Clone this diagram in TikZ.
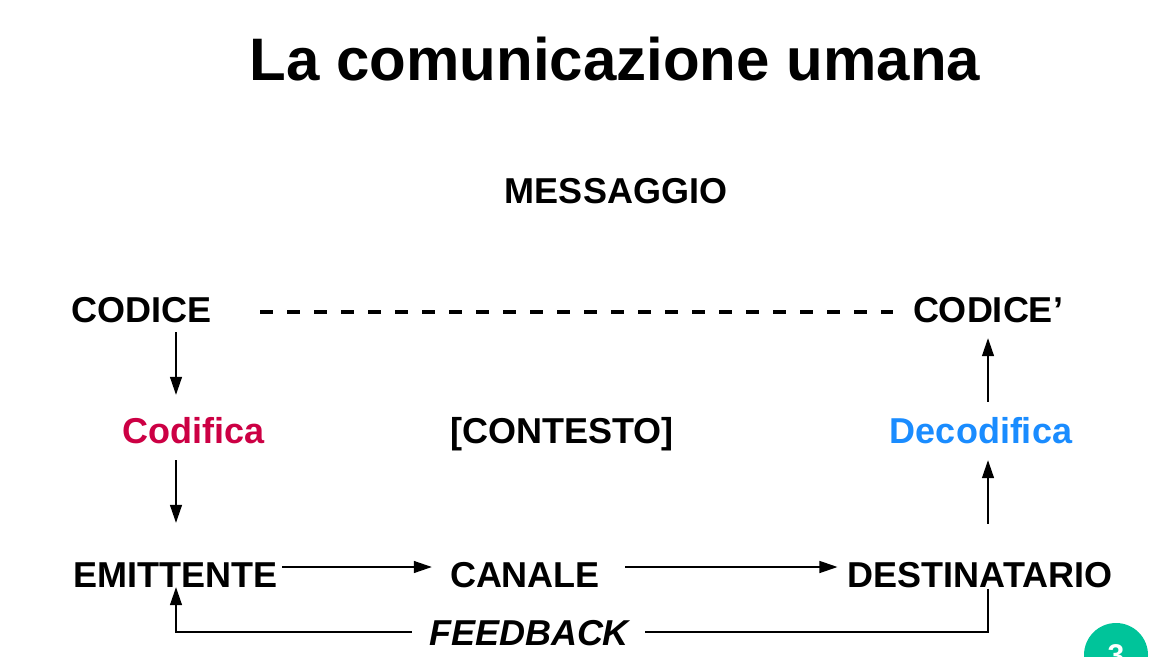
\documentclass[tikz,border=0pt]{standalone}
\usepackage{fontspec}
\setmainfont{Liberation Sans}
\usetikzlibrary{arrows.meta,calc}
\definecolor{codred}{HTML}{CC0044}
\definecolor{decblue}{HTML}{1A8CFF}
\definecolor{pagegreen}{HTML}{00C49A}
\tikzset{
  lbl/.style={inner sep=0pt, anchor=base, text height=26pt, text depth=0pt,
    font=\fontsize{36}{40}\selectfont\bfseries},
  arr/.style={line width=1.3pt, -{Triangle[length=18pt,width=12pt]}},
  plain/.style={line width=1.3pt},
  dashline/.style={line width=4pt, dash pattern=on 13pt off 14pt}
}
\begin{document}
\begin{tikzpicture}[x=1pt,y=-1pt]
\useasboundingbox (0,0) rectangle (1164,656);
\node[inner sep=0pt, anchor=base, font=\fontsize{60}{66}\selectfont\bfseries] (title) at (615,80) {La comunicazione umana};
\node[lbl] (messaggio) at (616,203) {MESSAGGIO};
\node[lbl] (codice) at (142,322) {CODICE};
\node[lbl] (codice2) at (988,322) {CODICE’};
\node[lbl, text=codred] (codifica) at (194,443) {Codifica};
\node[lbl] (contesto) at (562,443) {[CONTESTO]};
\node[lbl, text=decblue] (decodifica) at (981,443) {Decodifica};
\node[lbl] (emittente) at (175,587) {EMITTENTE};
\node[lbl] (canale) at (525,587) {CANALE};
\node[lbl] (destinatario) at (980,587) {DESTINATARIO};
\node[lbl, font=\fontsize{36}{40}\selectfont\bfseries\itshape] (feedback) at (529,645) {FEEDBACK};
\coordinate (lx) at (176,0);
\coordinate (rx) at (988,0);
% dashed link
\draw[dashline, shorten <=48pt, shorten >=20pt] ([yshift=-3pt]codice.east) -- ([yshift=-3pt]codice2.west);
% left column
\draw[arr, shorten <=10pt, shorten >=22pt] (codice.south -| lx) -- (codifica.north -| lx);
\draw[arr, shorten <=17pt, shorten >=38pt] (codifica.south -| lx) -- (emittente.north -| lx);
% right column
\draw[arr, shorten <=37pt, shorten >=17pt] (destinatario.north -| rx) -- (decodifica.south -| rx);
\draw[arr, shorten <=15pt, shorten >=16pt] (decodifica.north -| rx) -- (codice2.south -| rx);
% bottom row
\draw[arr, shorten <=5pt, shorten >=18pt] ([yshift=7pt]emittente.east) -- ([yshift=7pt]emittente.east -| canale.west);
\draw[arr, shorten <=25pt, shorten >=10pt] ([yshift=7pt]canale.east) -- ([yshift=7pt]canale.east -| destinatario.west);
% feedback
\draw[plain, shorten <=2pt, shorten >=16pt] (destinatario.south -| rx) -- (rx |- feedback.east) -- (feedback.east);
\draw[arr, shorten <=17pt] (feedback.west) -- (lx |- feedback.west) -- (emittente.south -| lx);
% page badge
\fill[pagegreen] (1116,655) circle (32pt);
\node[inner sep=0pt, anchor=base, text=white, font=\fontsize{30}{32}\selectfont\bfseries] (pagenum) at (1116,665) {3};
\end{tikzpicture}
\end{document}
